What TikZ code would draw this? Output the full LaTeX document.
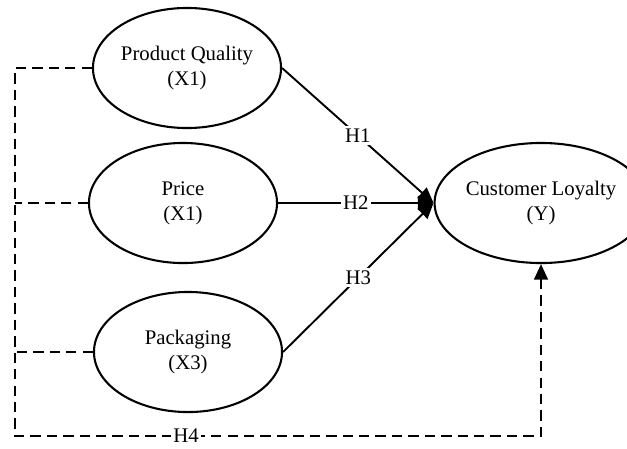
\documentclass[tikz,border=0pt]{standalone}
\usepackage{fontspec}
\setmainfont{Liberation Serif}
\usetikzlibrary{positioning,arrows.meta,shapes}

\begin{document}
\begin{tikzpicture}[x=0.578pt,y=-0.578pt,
	line width=1.1pt,
	varnode/.style={draw,ellipse,line width=1.2pt,minimum width=108.7pt,minimum height=69.4pt,inner sep=0pt,align=center,font=\fontsize{12}{14.5}\selectfont},
	hnode/.style={fill=white,inner sep=1.5pt,font=\fontsize{12}{14.5}\selectfont},
	hyparrow/.style={-{Triangle[length=9pt,width=8pt]}},
	corrline/.style={dash pattern=on 6pt off 3.5pt},
	]
	\useasboundingbox (0,0) rectangle (627,448);
	
	% the independent variables
	\node[varnode] (pq) at (187,68) {Product Quality\\(X1)};
	\node[varnode] (pr) at (183,203) {Price\\(X1)};
	\node[varnode] (pk) at (188,352) {Packaging\\(X3)};
	
	% the dependent variable
	\node[varnode] (cl) at (541,203) {Customer Loyalty\\(Y)};
	
	% hypothesis edges
	\draw[hyparrow] (pq.east) -- node[hnode] {H1} (cl.west);
	\draw[hyparrow] (pr.east) -- node[hnode] {H2} (cl.west);
	\draw[hyparrow] (pk.east) -- node[hnode] {H3} (cl.west);
	
	% simultaneous edge
	\coordinate (ctop) at (15,68);
	\coordinate (cbot) at (15,436);
	\draw[corrline,hyparrow] (pq.west) -- (ctop) -- (cbot)
		-- node[hnode,pos=0.325] {H4} (cbot -| cl.south) -- (cl.south);
	\draw[corrline] (pr.west) -- (pr.west -| ctop);
	\draw[corrline] (pk.west) -- (pk.west -| ctop);
	
\end{tikzpicture}
\end{document}
